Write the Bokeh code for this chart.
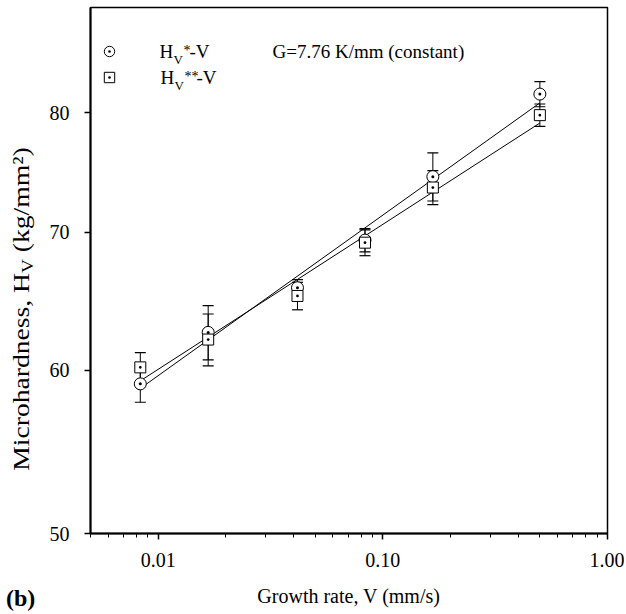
from bokeh.plotting import figure
from bokeh.layouts import row
from bokeh.models import (FixedTicker, NumeralTickFormatter, Whisker, TeeHead, Div,
                          ColumnDataSource, Label, Legend, LegendItem, Range1d)
from bokeh.embed import file_html
from bokeh.resources import INLINE

# ---- data ----
growth_rate = [0.00833, 0.0167, 0.0417, 0.0833, 0.167, 0.5]      # V (mm/s)
hv1 = [59.1, 62.6, 65.8, 69.4, 74.5, 81.7]                      # Hv* (kg/mm2)
hv1_err = [1.2, 1.9, 0.6, 0.9, 2.0, 1.15]
hv2 = [60.2, 62.1, 65.2, 69.2, 73.6, 79.8]                      # Hv** (kg/mm2)
hv2_err = [1.0, 1.8, 1.0, 1.0, 1.4, 1.0]
fit_x = [0.00833, 0.5]
hv1_fit = [58.8, 80.9]
hv2_fit = [59.3, 79.1]
x_ticks = [0.01, 0.1, 1.0]
y_ticks = [50, 60, 70, 80]
x_range = (0.005, 1.0)
y_range = (50, 90)

FONT = "Liberation Serif"
SIDE_W = 46

p = figure(width=578, height=612, x_axis_type="log", y_axis_type="log",
           x_range=Range1d(*x_range), y_range=Range1d(*y_range),
           output_backend="svg", toolbar_location=None,
           min_border_left=42, min_border_right=17, min_border_top=7, min_border_bottom=79)
p.xgrid.visible = False
p.ygrid.visible = False
p.outline_line_color = "black"
p.outline_line_width = 1.5
p.background_fill_color = "white"
p.border_fill_color = "white"

x_minor = [m * d for d in (0.001, 0.01, 0.1) for m in range(2, 10)
           if x_range[0] <= m * d <= x_range[1]]
p.xaxis.ticker = FixedTicker(ticks=x_ticks, minor_ticks=x_minor)
p.xaxis.formatter = NumeralTickFormatter(format="0.00")
p.yaxis.ticker = FixedTicker(ticks=y_ticks, minor_ticks=[])
p.yaxis.formatter = NumeralTickFormatter(format="0")
for ax in (p.xaxis[0], p.yaxis[0]):
    ax.axis_line_width = 2
    ax.axis_line_color = "black"
    ax.major_tick_in = 0
    ax.major_tick_out = 6
    ax.minor_tick_in = 0
    ax.minor_tick_out = 4
    ax.major_tick_line_width = 1.5
    ax.major_tick_line_color = "black"
    ax.minor_tick_line_color = "black"
    ax.major_label_text_font = FONT
    ax.major_label_text_font_size = "20px"
    ax.major_label_text_color = "black"
p.xaxis.major_label_standoff = 13
p.yaxis.major_label_standoff = 15
p.xaxis.axis_label = "Growth rate, V (mm/s)"
p.xaxis.axis_label_text_font = FONT
p.xaxis.axis_label_text_font_size = "20px"
p.xaxis.axis_label_text_font_style = "normal"
p.xaxis.axis_label_text_color = "black"
p.xaxis.axis_label_standoff = 15

# fitted lines
p.line(fit_x, hv1_fit, line_color="black", line_width=1)
p.line(fit_x, hv2_fit, line_color="black", line_width=1)

# error bars
def whisker(vals, errs):
    src = ColumnDataSource(dict(x=growth_rate,
                                lo=[v - e for v, e in zip(vals, errs)],
                                hi=[v + e for v, e in zip(vals, errs)]))
    w = Whisker(source=src, base="x", upper="hi", lower="lo", dimension="height",
                line_color="black", line_width=1, level="underlay",
                upper_head=TeeHead(size=11, line_color="black", line_width=1.2),
                lower_head=TeeHead(size=11, line_color="black", line_width=1.2))
    p.add_layout(w)

whisker(hv1, hv1_err)
whisker(hv2, hv2_err)

r1 = p.scatter(growth_rate, hv1, marker="circle_dot", size=12, fill_color="white",
               line_color="black", line_width=1)
r2 = p.scatter(growth_rate, hv2, marker="square_dot", size=11, fill_color="white",
               line_color="black", line_width=1)

legend = Legend(items=[LegendItem(label=" ", renderers=[r1]),
                       LegendItem(label=" ", renderers=[r2])],
                location=(6, 443), glyph_width=26, glyph_height=26, label_height=26,
                spacing=0, padding=0, margin=0, border_line_color=None,
                background_fill_alpha=0, label_text_font_size="20px")
p.add_layout(legend)

# text helpers: page coordinates -> frame-relative screen coordinates
FL, FB = 88, 533
def lab(text, px, py, size=20, **kw):
    p.add_layout(Label(x=px - FL, y=FB - py, x_units="screen", y_units="screen",
                       text=text, text_font=FONT, text_font_size=f"{size}px",
                       text_color="black", **kw))

# legend texts
lab("H", 157, 61, 19)
lab("V", 171, 66, 13)
lab("*", 181, 57, 14)
lab("-V", 187, 61, 19)
lab("H", 158, 87, 19)
lab("V", 172, 92, 13)
lab("**", 182, 83, 14)
lab("-V", 194, 87, 19)
lab("G=7.76 K/mm (constant)", 270, 61, 19)

# left strip: rotated y-axis title (with subscript) and panel tag "(b)"
side_html = (
    f"<div style=\"position:relative;width:{SIDE_W}px;height:612px;"
    "font-family:'Liberation Serif';color:black;\">"
    "<div style=\"position:absolute;left:21px;top:309px;"
    "transform:translate(-50%,-50%) rotate(-90deg) scaleX(1.2);white-space:nowrap;"
    "font-size:23px;line-height:1;\">Microhardness, H"
    "<span style=\"font-size:16px;position:relative;top:4px;\">V</span>"
    " (kg/mm²)</div>"
    "<div style=\"position:absolute;left:6px;top:586px;font-size:24px;"
    "font-weight:bold;line-height:1;white-space:nowrap;\">(b)</div>"
    "</div>"
)
side = Div(text=side_html, width=SIDE_W, height=612, margin=0)

layout = row(side, p)
open("out.html", "w").write(file_html(layout, INLINE))
